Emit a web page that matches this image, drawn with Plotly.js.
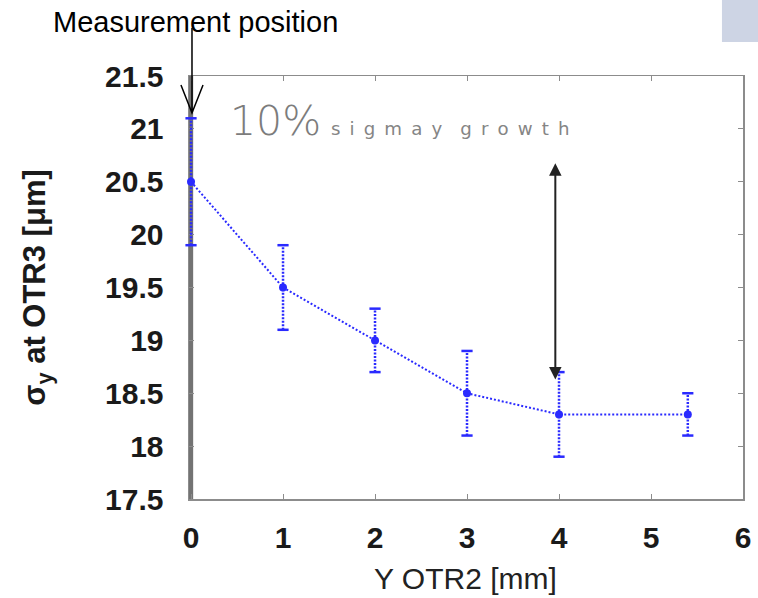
<!DOCTYPE html>
<html>
<head>
<meta charset="utf-8">
<script src="https://cdn.plot.ly/plotly-3.0.1.min.js"></script>
<style>html,body{margin:0;padding:0;background:#fff;}#chart{width:758px;height:598px;}</style>
</head>
<body>
<div id="chart"></div>
<script>
// Data
var yOtr2 = [0, 1, 2, 3, 4, 5.4];               // Y OTR2 [mm]
var sigmaY = [20.5, 19.5, 19.0, 18.5, 18.3, 18.3]; // sigma_y at OTR3 [um]
var sigmaErr = [0.6, 0.4, 0.3, 0.4, 0.4, 0.2];   // error bar half-height [um]
var xTicks = [0, 1, 2, 3, 4, 5, 6];
var yTicks = [17.5, 18, 18.5, 19, 19.5, 20, 20.5, 21, 21.5];

var blue = '#2a2aff';

// error bar stems (dotted) built from the data arrays
var ebX = [], ebY = [], capX = [], capY = [];
for (var i = 0; i < yOtr2.length; i++) {
  ebX.push(yOtr2[i], yOtr2[i], null);
  ebY.push(sigmaY[i] - sigmaErr[i], sigmaY[i] + sigmaErr[i], null);
  capX.push(yOtr2[i], yOtr2[i]);
  capY.push(sigmaY[i] - sigmaErr[i], sigmaY[i] + sigmaErr[i]);
}

var traces = [
  {x: ebX, y: ebY, type: 'scatter', mode: 'lines', cliponaxis: false, hoverinfo: 'skip',
   line: {color: blue, width: 2.5, dash: '2px,1.5px'}, showlegend: false},
  {x: capX, y: capY, type: 'scatter', mode: 'markers', cliponaxis: false, hoverinfo: 'skip',
   marker: {symbol: 'line-ew', size: 8, line: {color: blue, width: 2.5}}, showlegend: false},
  {x: yOtr2, y: sigmaY, type: 'scatter', mode: 'lines+markers', cliponaxis: false,
   line: {color: blue, width: 2, dash: '2px,2px'},
   marker: {color: blue, size: 8}, showlegend: false}
];

var tickFont = {family: 'Liberation Sans, Arial, sans-serif', size: 30, color: '#1a1a1a', weight: 'bold'};
var frameColor = '#8c8c8c';

var layout = {
  width: 758, height: 598,
  margin: {l: 189, r: 15, t: 76, b: 99},
  paper_bgcolor: '#ffffff', plot_bgcolor: '#ffffff',
  xaxis: {
    range: [-0.022, 6], tickvals: xTicks, ticktext: xTicks.map(String),
    ticks: 'inside', ticklen: 5, tickwidth: 1, tickcolor: frameColor,
    showline: true, linecolor: frameColor, linewidth: 1.5, mirror: 'ticks',
    showgrid: false, zeroline: false, layer: 'below traces',
    tickfont: tickFont, ticklabelstandoff: 11,
    automargin: false
  },
  yaxis: {
    range: [17.5, 21.5], tickvals: yTicks, ticktext: yTicks.map(String),
    ticks: 'inside', ticklen: 5, tickwidth: 1, tickcolor: frameColor,
    showline: true, linecolor: frameColor, linewidth: 1.5, mirror: 'ticks',
    showgrid: false, zeroline: false, layer: 'below traces',
    tickfont: tickFont, ticklabelstandoff: 18,
    automargin: true,
    title: {text: 'σ<sub>y</sub> at OTR3 [μm]', standoff: 50,
            font: {family: 'Liberation Sans, Arial, sans-serif', size: 31, color: '#1a1a1a', weight: 'bold'}}
  },
  shapes: [
    // thick left axis line
    {type: 'line', xref: 'paper', yref: 'paper', x0: 0.003, x1: 0.003, y0: 0, y1: 1,
     line: {color: '#737373', width: 5}, layer: 'below'},
    // measurement position arrow (open V head)
    {type: 'path', xref: 'paper', yref: 'paper',
     path: 'M0.0054,1.1135 L0.0054,0.9125 M-0.0145,0.9787 L0.0054,0.9125 L0.0253,0.9787',
     line: {color: '#000000', width: 1.5}},
    // light grey-blue box at the top right corner
    {type: 'rect', xref: 'paper', yref: 'paper', x0: 0.962, x1: 1.03, y0: 1.0804, y1: 1.19,
     fillcolor: '#cdd4e4', line: {width: 0}}
  ],
  annotations: [
    // x axis title
    {text: 'Y OTR2 [mm]', xref: 'paper', yref: 'paper',
     x: (465 - 189) / 554, y: -(578 - 499) / 423, xanchor: 'center', yanchor: 'middle',
     showarrow: false, font: {family: 'Liberation Sans, Arial, sans-serif', size: 30, color: '#222'}},
    {text: 'Measurement position', xref: 'paper', yref: 'paper',
     x: (195 - 189) / 554, y: 1 + (76 - 22) / 423, xanchor: 'center', yanchor: 'middle',
     showarrow: false, font: {family: 'Liberation Sans, Arial, sans-serif', size: 29, color: '#000'}},
    {text: '10%', xref: 'x', yref: 'y', x: 0.40, y: 21.07, xanchor: 'left', yanchor: 'middle',
     showarrow: false, font: {family: 'DejaVu Sans, sans-serif', size: 41, color: '#7c7c7c', weight: 200}},
    {text: 's\u2002i\u2002g\u2002m\u2002a\u2002y\u2002\u2002g\u2002r\u2002o\u2002w\u2002t\u2002h',
     xref: 'x', yref: 'y', x: 2.82, y: 21.0, xanchor: 'center', yanchor: 'middle',
     showarrow: false, font: {family: 'DejaVu Sans, sans-serif', size: 18.2, color: '#858585'}},
    {text: '', xref: 'x', yref: 'y', axref: 'x', ayref: 'y',
     x: 3.96, y: 18.63, ax: 3.96, ay: 20.69,
     showarrow: true, arrowhead: 2, startarrowhead: 2, arrowside: 'end+start',
     arrowsize: 1.25, startarrowsize: 1.25, arrowwidth: 2, arrowcolor: '#222', standoff: 0, startstandoff: 0}
  ]
};

Plotly.newPlot('chart', traces, layout, {displayModeBar: false, staticPlot: true});
</script>
</body>
</html>
